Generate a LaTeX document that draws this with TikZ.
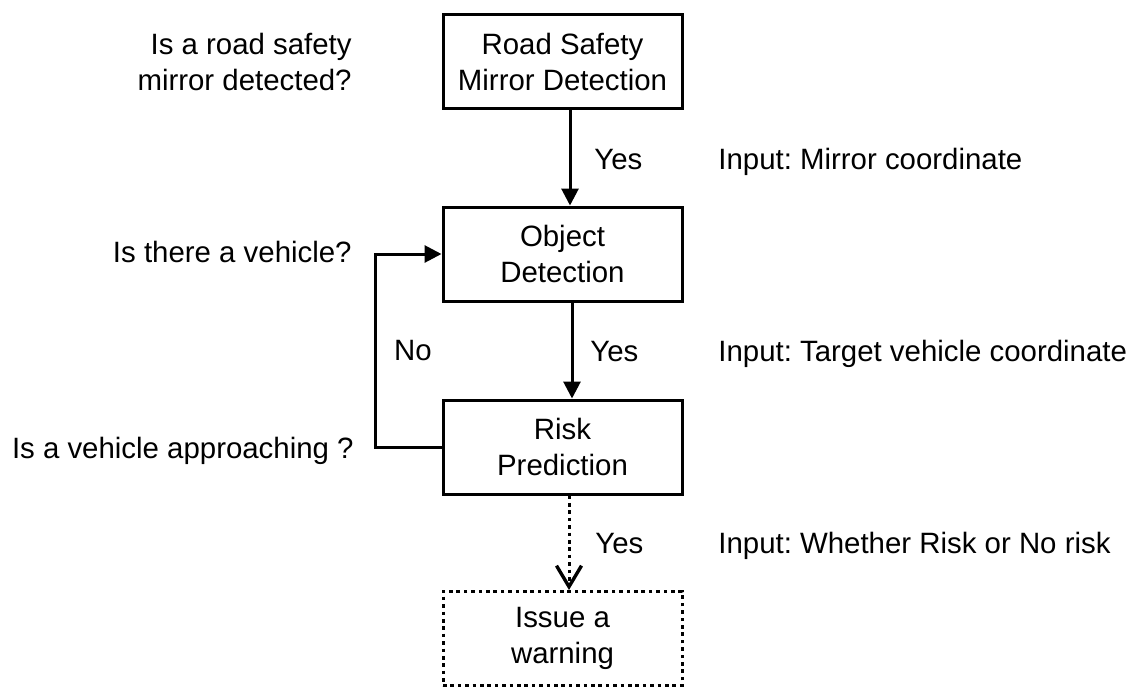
\documentclass[tikz,border=0pt]{standalone}
\usepackage{fontspec}
\setmainfont{Liberation Sans}
\usetikzlibrary{arrows.meta}
\frenchspacing

\tikzset{
    stagebox/.style  = {draw, line width=1.5pt, minimum width=119.5pt, minimum height=47pt,
                        align=center, inner sep=0pt},
    dotline/.style   = {line width=1.5pt, dash pattern=on 1.8pt off 1.9pt},
    flow/.style      = {line width=1.5pt, -{Triangle[length=8.5pt, width=8.5pt]}},
    maybeflow/.style = {dotline, -{Straight Barb[length=10.5pt, width=12.5pt, line width=1.7pt]}},
    question/.style  = {anchor=base east, align=right, inner sep=0pt},
    answer/.style    = {anchor=base west, inner sep=0pt},
}

\begin{document}
\begin{tikzpicture}[x=0.5pt, y=-0.5pt, font=\fontsize{14.7}{18}\selectfont]
            \useasboundingbox (0,0) rectangle (1136,686);
            \node[stagebox]          (mirror) at (562.5,  61.5) {Road Safety\\Mirror Detection};
            \node[stagebox]          (object) at (562.5, 254.0) {Object\\Detection};
            \node[stagebox]          (risk)   at (562.5, 447.0) {Risk\\Prediction};
            \node[stagebox, dotline] (warn)   at (562.5, 638.5) {Issue a\\warning};

            \node[question, anchor=east] (qmirror) at (352, 61.5) {Is a road safety\\mirror detected?};
            \node[question] (qvehicle)  at (352, 262) {Is there a vehicle?};
            \node[question] (qapproach) at (354, 458) {Is a vehicle approaching ?};

            \node[answer] (yes1) at (594, 169) {Yes};
            \node[answer] (yes2) at (590, 361) {Yes};
            \node[answer] (yes3) at (595, 553) {Yes};
            \node[answer] (in1)  at (718, 169) {Input: Mirror coordinate};
            \node[answer] (in2)  at (718, 361) {Input: Target vehicle coordinate};
            \node[answer] (in3)  at (718, 553) {Input: Whether Risk or No risk};
            \node[answer, anchor=base] (no) at (413, 360) {No};

            \draw[flow]      ([xshift=3.75pt]mirror.south) -- ([xshift=3.75pt]object.north);
            \draw[flow]      ([xshift=4.75pt]object.south) -- ([xshift=4.75pt]risk.north);
            \draw[maybeflow] ([xshift=3.25pt]risk.south)   -- ([xshift=3.25pt]warn.north);
            \coordinate (loop) at (375, 447);
            \draw[flow] (risk.west) -- (loop) |- (object.west);
        \end{tikzpicture}
\end{document}
